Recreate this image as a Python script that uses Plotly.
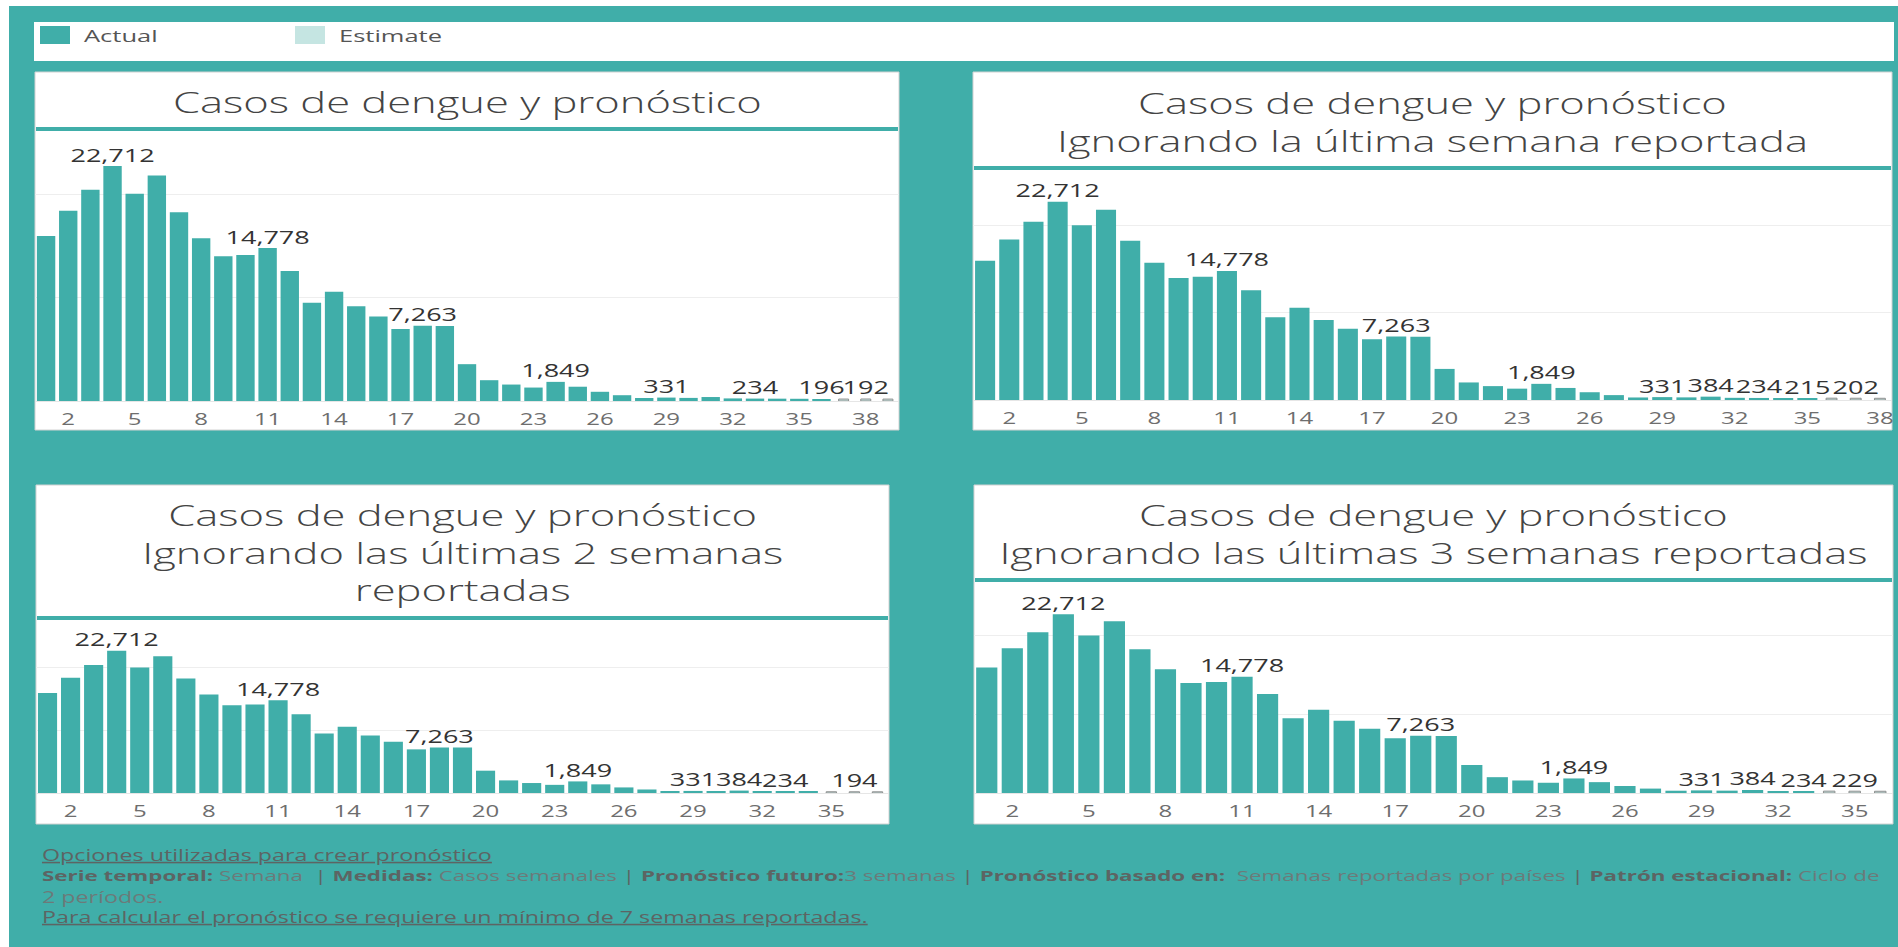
import plotly.graph_objects as go

# ---------------- data ----------------
weeks = list(range(1, 40))
actual_cases = [15950, 18380, 20420, 22712, 20020, 21800, 18250, 15720, 13980, 14110,
                14778, 12570, 9490, 10570, 9170, 8160, 6960, 7263, 7240, 3560,
                2010, 1590, 1300, 1849, 1380, 890, 560, 290, 331, 300,
                384, 250, 234, 225, 215, 196]
panel_titles = [
    "Casos de dengue y pronóstico",
    "Casos de dengue y pronóstico<br>Ignorando la última semana reportada",
    "Casos de dengue y pronóstico<br>Ignorando las últimas 2 semanas<br>reportadas",
    "Casos de dengue y pronóstico<br>Ignorando las últimas 3 semanas reportadas",
]
actual_weeks_used = [36, 35, 34, 33]
estimate_cases = [[188, 192, 185], [208, 202, 196], [200, 194, 190], [236, 229, 222]]
labeled_weeks = [
    [4, 11, 18, 24, 29, 33, 36, 38],
    [4, 11, 18, 24, 29, 31, 33, 35, 37],
    [4, 11, 18, 24, 29, 31, 33, 36],
    [4, 11, 18, 24, 29, 31, 33, 35],
]
tick_weeks = list(range(2, 40, 3))
grid_values = [10000, 20000]
legend_labels = ["Actual", "Estimate"]
NORMAL = "#6c7a79"
footer_lines = [
    "<u>Opciones utilizadas para crear pronóstico</u>",
    f"<b>Serie temporal:</b> <span style='color:{NORMAL}'>Semana</span>  | <b>Medidas:</b> "
    f"<span style='color:{NORMAL}'>Casos semanales</span> | <b>Pronóstico futuro:</b>"
    f"<span style='color:{NORMAL}'>3 semanas</span> | <b>Pronóstico basado en:</b>  "
    f"<span style='color:{NORMAL}'>Semanas reportadas por países</span> | <b>Patrón estacional:</b> "
    f"<span style='color:{NORMAL}'>Ciclo de</span>",
    f"<span style='color:{NORMAL}'>2 períodos.</span>",
    "<u>Para calcular el pronóstico se requiere un mínimo de 7 semanas reportadas.</u>",
]

# ---------------- layout geometry (pixels) ----------------
W, H = 1898, 947
TEAL = "#40aea9"
EST = "#c5e5e2"
FONT = "Open Sans"

panels = [
    dict(x0=35, x1=899, y0=72, y1=430, line_y=127, top=132, base=401, ymax=26000, nbars=39, ty=101),
    dict(x0=973, x1=1892, y0=72, y1=430, line_y=166, top=170, base=400, ymax=26340, nbars=38, ty=121),
    dict(x0=36, x1=889, y0=485, y1=824, line_y=616, top=620, base=793, ymax=27600, nbars=37, ty=552),
    dict(x0=974, x1=1893, y0=485, y1=824, line_y=578, top=582, base=793, ymax=26800, nbars=36, ty=533),
]


def px(x):
    return x / W


def py(y):
    return 1 - y / H


fig = go.Figure()
shapes = []
annotations = []

# background
shapes.append(dict(type="rect", xref="paper", yref="paper", x0=px(9), x1=1, y0=0, y1=py(6),
                   fillcolor=TEAL, line=dict(width=0), layer="below"))
# legend box
shapes.append(dict(type="rect", xref="paper", yref="paper", x0=px(34), x1=px(1894), y0=py(61), y1=py(22),
                   fillcolor="white", line=dict(width=0), layer="below"))
legend_x = [40, 295]
for lx, lab, col in zip(legend_x, legend_labels, [TEAL, EST]):
    shapes.append(dict(type="rect", xref="paper", yref="paper", x0=px(lx), x1=px(lx + 30),
                       y0=py(44), y1=py(26), fillcolor=col, line=dict(width=0), layer="below"))
    annotations.append(dict(text=lab, xref="paper", yref="paper", x=px(lx + 42), y=py(36),
                            xanchor="left", yanchor="middle", showarrow=False, align="left",
                            font=dict(family=FONT, size=17, color="#555555")))

for i, p in enumerate(panels):
    n = i + 1
    xa = "xaxis" if n == 1 else f"xaxis{n}"
    ya = "yaxis" if n == 1 else f"yaxis{n}"
    xr = "x" if n == 1 else f"x{n}"
    yr = "y" if n == 1 else f"y{n}"
    # panel card
    shapes.append(dict(type="rect", xref="paper", yref="paper", x0=px(p["x0"]), x1=px(p["x1"]),
                       y0=py(p["y1"]), y1=py(p["y0"]), fillcolor="white",
                       line=dict(color="#d2d2d2", width=1), layer="below"))
    shapes.append(dict(type="rect", xref="paper", yref="paper", x0=px(p["x0"] + 1), x1=px(p["x1"] - 1),
                       y0=py(p["line_y"] + 4), y1=py(p["line_y"]), fillcolor=TEAL,
                       line=dict(width=0), layer="below"))
    annotations.append(dict(text=panel_titles[i], xref="paper", yref="paper",
                            x=px((p["x0"] + p["x1"]) / 2), y=py(p["ty"]),
                            xanchor="center", yanchor="middle", showarrow=False, align="center",
                            font=dict(family=FONT, size=29, color="#444444", weight=300)))

    na = actual_weeks_used[i]
    wa = weeks[:na]
    va = actual_cases[:na]
    we = weeks[na:na + 3]
    ve = estimate_cases[i]
    fig.add_trace(go.Bar(x=wa, y=va, marker=dict(color=TEAL, line=dict(width=0)),
                         xaxis=xr, yaxis=yr, showlegend=False, hoverinfo="x+y", name="Actual"))
    fig.add_trace(go.Bar(x=we, y=ve, width=0.45,
                         marker=dict(color=EST, line=dict(color="#8f8f8f", width=1)),
                         xaxis=xr, yaxis=yr, showlegend=False, hoverinfo="x+y", name="Estimate"))
    all_w = wa + we
    all_v = va + ve
    lw = [w for w in labeled_weeks[i] if w in all_w]
    lv = [all_v[all_w.index(w)] for w in lw]
    fig.add_trace(go.Scatter(x=lw, y=lv, mode="text", text=[f"{v:,}" for v in lv],
                             textposition="top center", cliponaxis=False,
                             textfont=dict(family=FONT, size=18, color="#333333"),
                             xaxis=xr, yaxis=yr, showlegend=False, hoverinfo="skip"))

    tv = [t for t in tick_weeks if t <= p["nbars"]]
    fig.layout[xa] = dict(domain=[px(p["x0"]), px(p["x1"])], range=[0.5, p["nbars"] + 0.5],
                          anchor=yr, tickvals=tv, ticktext=[str(t) for t in tv],
                          ticks="outside", ticklen=4, tickcolor="rgba(0,0,0,0)",
                          showgrid=False, zeroline=False, showline=True, linecolor="#e6e6e6",
                          tickfont=dict(family=FONT, size=16, color="#6e6e6e"), fixedrange=True)
    fig.layout[ya] = dict(domain=[py(p["base"]), py(p["top"])], range=[0, p["ymax"]],
                          anchor=xr, tickvals=grid_values, showticklabels=False,
                          showgrid=True, gridcolor="#eeeeee", gridwidth=1, zeroline=False,
                          fixedrange=True)

footer_y = [855, 875, 897, 917]
footer_sizes = [15.5, 14.9, 15.5, 15.5]
for t, yy, fs in zip(footer_lines, footer_y, footer_sizes):
    annotations.append(dict(text=t, xref="paper", yref="paper", x=px(40), y=py(yy),
                            xanchor="left", yanchor="middle", showarrow=False, align="left",
                            font=dict(family=FONT, size=fs, color="#5d6463")))

fig.update_layout(width=W, height=H, margin=dict(l=0, r=0, t=0, b=0),
                  paper_bgcolor="white", plot_bgcolor="rgba(0,0,0,0)",
                  barmode="overlay", bargap=0.17, shapes=shapes, annotations=annotations,
                  showlegend=False)

stretch_js = """
(function(){
  document.documentElement.style.margin = '0';
  document.body.style.margin = '0';
  document.body.style.padding = '0';
  document.body.style.overflow = 'hidden';
  var gd = document.getElementById('{plot_id}');
  var S = 1.5;
  var texts = gd.querySelectorAll('svg text');
  texts.forEach(function(t){
    if (!t.textContent || !t.textContent.trim()) return;
    var b;
    try { b = t.getBBox(); } catch(e) { return; }
    var anchor = t.getAttribute('text-anchor') || window.getComputedStyle(t).textAnchor || 'start';
    var ax = anchor === 'middle' ? b.x + b.width / 2 : (anchor === 'end' ? b.x + b.width : b.x);
    var tr = t.getAttribute('transform') || '';
    t.setAttribute('transform', tr + ' translate(' + ax + ',0) scale(' + S + ',1) translate(' + (-ax) + ',0)');
  });
})();
"""

fig.write_html("out.html", config={"displayModeBar": False}, post_script=stretch_js)
